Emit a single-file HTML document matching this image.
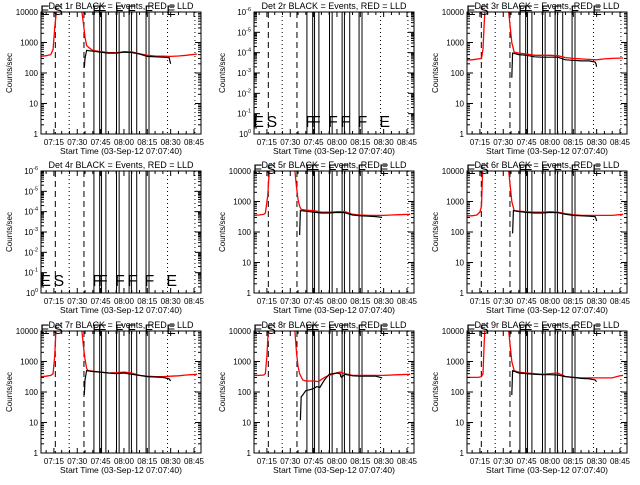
<!DOCTYPE html>
<html><head><meta charset="utf-8">
<style>
html,body{margin:0;padding:0;background:#fff;}
svg text{font-family:"Liberation Sans",sans-serif;fill:#000;}
</style></head>
<body>
<svg id="chart" width="640" height="480" viewBox="0 0 640 480" xmlns="http://www.w3.org/2000/svg"></svg>
<script>
// time axis (minutes after 07:00)
const xTickValues = [15,30,45,60,75,90,105];
const xTickLabels = ["07:15","07:30","07:45","08:00","08:15","08:30","08:45"];
const dashedTimes = [15.9, 34.3];
const dottedTimes = [24.8, 88, 105.6];
const solidTimes = [40.7,44.4,45.6,48.4,55.2,56.9,63.3,64.8,68.2,74.2,76.1];
const flagLetters = ["E","S","F","F","F","F","F","E"];
const flagTimes = [7.5,16,41,44.5,55.5,63.5,74.5,88.5];
const panelNames = ["1r","2r","3r","4r","5r","6r","7r","8r","9r"];
const emptyYLabels = ["-6","-5","-4","-3","-2","-1","0"];

// red (LLD) series
const red1T=[6.7,10,13,14.5,15.5,16.5,17.5,25,33,34,35,36,38,40,45,50,55,60,65,70,75,80,85,90,95,100,107];
const red1V=[350,370,400,600,3000,10000,20000,20000,10000,4000,1500,800,650,550,500,470,460,500,490,430,380,360,355,350,360,380,420];
const red3T=[6.7,10,14,16,17,17.8,18.5,25,33.5,34.5,35.5,37,40,45,50,55,60,65,70,75,80,85,90,95,100,107];
const red3V=[270,270,290,300,600,5000,20000,20000,10000,3000,1000,480,450,420,380,380,380,370,320,300,290,280,270,290,300,310];
const red5T=[6.7,10,13,14,15.5,16.5,17.5,25,33,34,35,36,37,40,45,50,55,60,65,70,75,80,85,90,95,100,107];
const red5V=[350,360,380,420,1500,10000,20000,20000,10000,3000,1200,700,550,520,500,450,450,460,470,380,360,350,350,350,360,370,380];
const red6T=[6.7,10,13,15,16,16.7,17.5,25,33.5,34.5,35.5,37,40,45,50,55,60,65,70,75,80,85,90,95,100,107];
const red6V=[340,340,360,450,700,10000,20000,20000,10000,3000,1000,500,480,460,450,450,460,450,400,370,350,350,350,350,350,380];
const red7T=[6.7,10,13,14.5,15.5,16.3,17,25,33,34,35,36,37,40,45,50,55,60,65,70,75,80,85,90,95,100,107];
const red7V=[320,330,350,400,1500,10000,20000,20000,10000,3000,1200,600,500,480,450,420,430,450,420,350,330,320,320,330,340,360,380];
const red8T=[6.7,10,13,14,15,15.8,16.5,25,33,34,35,36,38,40,45,48,52,55,60,62,65,70,80,90,100,107];
const red8V=[350,350,360,400,1500,10000,20000,20000,10000,2000,700,400,250,230,230,220,300,350,430,450,400,350,350,350,370,380];
const red9T=[6.7,10,14,16,17,17.8,18.5,25,33.5,34.5,35.5,37,40,45,50,55,60,65,70,75,80,90,100,105,107];
const red9V=[300,300,300,320,400,5000,20000,20000,10000,3000,1000,500,450,420,400,380,400,420,320,300,290,290,290,340,350];

// black (Events) series
const blk1T=[34.5,35,36,40,45,50,55,60,65,70,75,80,85,89,89.5,90];
const blk1V=[150,300,550,520,480,450,450,480,470,420,350,340,330,320,250,200];
const blk3T=[35.5,36,40,45,50,55,60,65,70,75,80,85,89,89.6,90];
const blk3V=[70,450,400,380,340,330,330,330,270,260,250,250,230,200,160];
const blk5T=[36,36.5,40,45,50,55,60,65,70,75,80,85,89];
const blk5V=[80,500,480,450,420,420,440,430,360,340,330,320,300];
const blk6T=[36,36.5,40,45,50,55,60,65,70,75,80,85,89,89.5,90];
const blk6V=[90,500,470,440,420,420,440,430,380,350,340,330,320,280,230];
const blk7T=[34.5,35,36,40,45,50,55,60,65,70,75,80,85,89,90];
const blk7V=[80,250,500,470,450,420,400,420,380,350,320,310,300,270,230];
const blk8T=[36.5,37,38,40,43,45,47,49,52,55,60,62,62.5,63,65,70,75,80,85,89];
const blk8V=[12,70,80,110,120,130,150,140,250,380,420,400,320,300,380,340,330,330,330,290];
const blk9T=[35.5,36,40,45,50,55,60,65,70,75,80,85,89,90];
const blk9V=[80,500,420,400,380,370,370,360,320,300,280,270,250,220];

const redSeries=[red1T,red1V,null,null,red3T,red3V,null,null,red5T,red5V,red6T,red6V,red7T,red7V,red8T,red8V,red9T,red9V];
const blkSeries=[blk1T,blk1V,null,null,blk3T,blk3V,null,null,blk5T,blk5V,blk6T,blk6V,blk7T,blk7V,blk8T,blk8V,blk9T,blk9V];

const NS="http://www.w3.org/2000/svg";
const svg=document.getElementById('chart');
function mk(tag,attrs,parent){const e=document.createElementNS(NS,tag);for(const k in attrs)e.setAttribute(k,attrs[k]);(parent||svg).appendChild(e);return e;}

const colX=[41,254,467], rowY=[12,171,331], W=160, H=122;
const T0=6.7, T1=109.5;

for(let p=0;p<9;p++){
  const x0=colX[p%3], y0=rowY[Math.floor(p/3)];
  const empty=(p===1||p===3);
  const g=mk('g',{});
  
  
  const xs=t=>x0+(t-T0)/(T1-T0)*W;
  const lmin=empty?-6:0, lmax=empty?0:4;
  const ys=v=>y0+H-(Math.log10(v)-lmin)/(lmax-lmin)*H;
  const cid='clip'+p;
  const cp=mk('clipPath',{id:cid},g); mk('rect',{x:x0,y:y0,width:W,height:H},cp);
  const plot=mk('g',{'clip-path':'url(#'+cid+')'},g);
  const fid='fclip'+p;
  const fp=mk('clipPath',{id:fid},g); mk('rect',{x:x0,y:y0-11,width:W,height:15},fp);
  const flagG=mk('g',empty?{'clip-path':'url(#'+cid+')'}:{'clip-path':'url(#'+fid+')'},g);

  dashedTimes.forEach(t=>{const l=mk('line',{x1:xs(t),x2:xs(t),y1:y0,y2:y0+H,stroke:'#000','stroke-width':1,'stroke-dasharray':'6,4'},plot);
    });
  dottedTimes.forEach(t=>{const l=mk('line',{x1:xs(t),x2:xs(t),y1:y0,y2:y0+H,stroke:'#000','stroke-width':1,'stroke-dasharray':'1,3'},plot);
    });
  solidTimes.forEach(t=>{const l=mk('line',{x1:xs(t),x2:xs(t),y1:y0,y2:y0+H,stroke:'#000','stroke-width':1},plot);
    });
  flagLetters.forEach((s,i)=>{
    const ty=empty?y0+H-7:y0+3;
    const fs=empty?16:14;
    const tx=mk('text',{x:xs(flagTimes[i])-2,y:ty,'font-size':fs},flagG);tx.textContent=s;
    });

  const rT=redSeries[p*2], rV=redSeries[p*2+1];
  if(rT){const pts=rT.map((t,i)=>xs(t).toFixed(1)+','+ys(rV[i]).toFixed(1)).join(' ');
    const pl=mk('polyline',{points:pts,fill:'none',stroke:'#ff0000','stroke-width':1.3},plot);
    }
  const bT=blkSeries[p*2], bV=blkSeries[p*2+1];
  if(bT){const pts=bT.map((t,i)=>xs(t).toFixed(1)+','+ys(bV[i]).toFixed(1)).join(' ');
    const pl=mk('polyline',{points:pts,fill:'none',stroke:'#000','stroke-width':1.2},plot);
    }

  const fr=mk('rect',{x:x0,y:y0,width:W,height:H,fill:'none',stroke:'#000','stroke-width':1},g);
  

  for(let t=10;t<=T1;t+=5){const major=(t%15===0);const len=major?5:3;const X=xs(t);
    mk('line',{x1:X,x2:X,y1:y0+H,y2:y0+H-len,stroke:'#000'},g);
    mk('line',{x1:X,x2:X,y1:y0,y2:y0+len,stroke:'#000'},g);}
  xTickValues.forEach((t,i)=>{const tx=mk('text',{x:xs(t),y:y0+H+11,'font-size':8,'text-anchor':'middle'},g);tx.textContent=xTickLabels[i];
    });
  const xt=mk('text',{x:x0+W/2,y:y0+H+20,'font-size':8.5,'text-anchor':'middle'},g);
  xt.textContent='Start Time (03-Sep-12 07:07:40)';
  

  for(let d=lmin;d<lmax;d++){for(let m=1;m<10;m++){const v=m*Math.pow(10,d);const Y=ys(v);const len=m===1?6:3;
    mk('line',{x1:x0,x2:x0+len,y1:Y,y2:Y,stroke:'#000'},g);
    mk('line',{x1:x0+W,x2:x0+W-len,y1:Y,y2:Y,stroke:'#000'},g);}}
  for(let d=lmin;d<=lmax;d++){const Y=ys(Math.pow(10,d));
    const tx=mk('text',{x:x0-3,y:Y+3,'font-size':8,'text-anchor':'end'},g);
    if(empty){tx.textContent='10';const sp=mk('tspan',{dy:-4,'font-size':5.5},tx);sp.textContent=emptyYLabels[lmax-d];}
    else tx.textContent=String(Math.pow(10,d));
    }
  const yt=mk('text',{x:0,y:0,'font-size':8,'text-anchor':'middle',transform:'translate('+(x0-29)+','+(y0+H/2)+') rotate(-90)'},g);
  yt.textContent='Counts/sec';
  

  const tt=mk('text',{x:x0+W/2,y:y0-3,'font-size':9,'text-anchor':'middle'},g);
  tt.textContent='Det '+panelNames[p]+' BLACK = Events, RED = LLD';
  
}
</script>
</body></html>
